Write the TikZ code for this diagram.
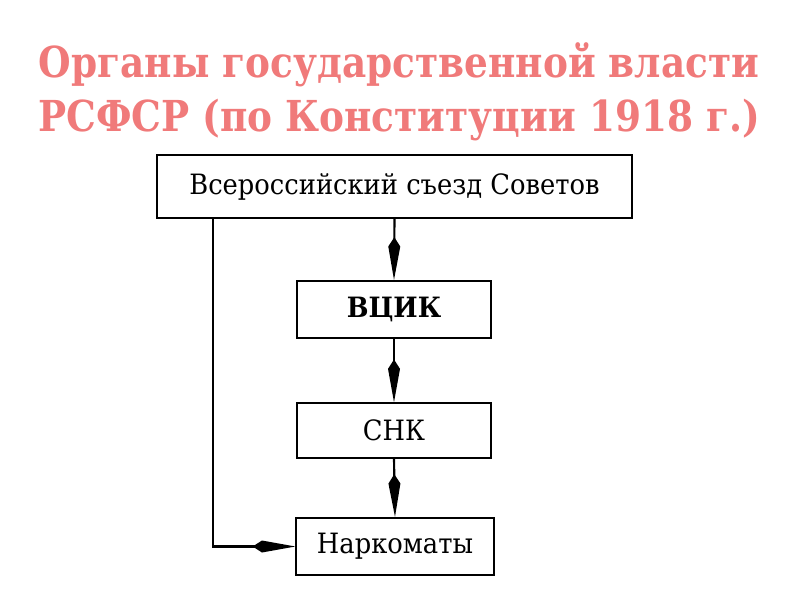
\documentclass[tikz,border=0pt]{standalone}
\usepackage{fontspec}
\setmainfont{DejaVu Serif}
\usetikzlibrary{arrows.meta}
\definecolor{titlered}{RGB}{240,122,122}
\newcommand{\sq}[1]{\scalebox{0.92}[1]{#1}}
\newcommand{\tsq}[1]{\scalebox{0.877}[1]{#1}}
\tikzset{
  box/.style={draw=black, line width=1.5pt, fill=white, inner sep=0pt, font=\fontsize{21pt}{24pt}\selectfont},
  conn/.style={draw=black, line width=1.6pt, -{Kite[length=32pt,width=9pt,inset=7pt]}},
  ttl/.style={text=titlered, font=\fontsize{32pt}{36pt}\selectfont\bfseries, anchor=base, inner sep=0pt}
}
\begin{document}
\begin{tikzpicture}[x=0.75pt,y=-0.75pt]
\useasboundingbox (0,0) rectangle (800,600);
\node[ttl] (t1) at (399,77) {\tsq{Органы государственной власти}};
\node[ttl] (t2) at (399,131) {\tsq{РСФСР (по Конституции 1918 г.)}};
\node[box, minimum width=356pt, minimum height=47pt] (b1) at (394.5,186.5) {\sq{Всероссийский съезд Советов}};
\node[box, minimum width=146pt, minimum height=43pt] (b2) at (394,309.5) {\sq{\bfseries ВЦИК}};
\node[box, minimum width=146pt, minimum height=41pt] (b3) at (394,430.5) {\sq{СНК}};
\node[box, minimum width=148pt, minimum height=43pt] (b4) at (395,546.5) {\sq{Наркоматы}};
\coordinate (lx) at (213,0);
\draw[conn] (b1.south) -- (b2.north);
\draw[conn] (b2.south) -- (b3.north);
\draw[conn] (b3.south) -- (b4.north);
\draw[conn] (b1.south -| lx) |- (b4.west);
\end{tikzpicture}
\end{document}
